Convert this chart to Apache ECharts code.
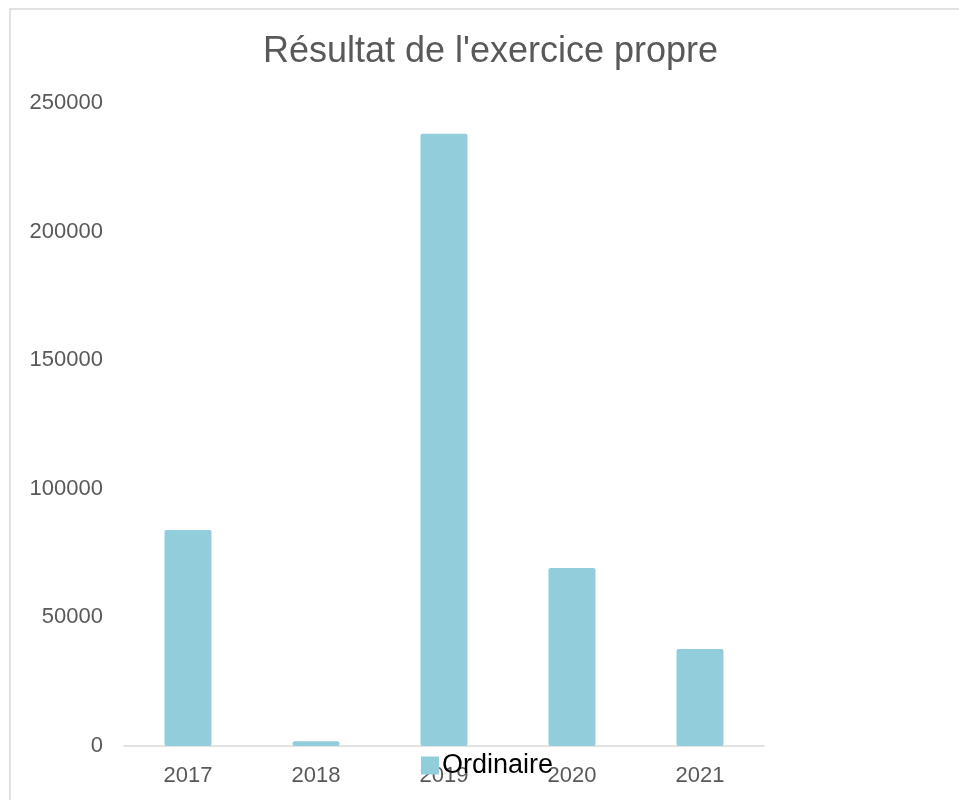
<!DOCTYPE html>
<html>
<head>
<meta charset="utf-8">
<script src="https://cdn.jsdelivr.net/npm/echarts@6/dist/echarts.min.js"></script>
<style>
    html, body { margin: 0; padding: 0; background: #ffffff; }
    #main { width: 959px; height: 800px; }
</style>
</head>
<body>
<div id="main"></div>
<script>
// 数据
var years = ['2017', '2018', '2019', '2020', '2021'];
var ordinaire = [84000, 1800, 238000, 69200, 37700];
var yTicks = [0, 50000, 100000, 150000, 200000, 250000];

var chart = echarts.init(document.getElementById('main'));
var option = {
    backgroundColor: '#ffffff',
    textStyle: {
        fontFamily: 'Liberation Sans, Arial, sans-serif'
    },
    title: {
        text: "Résultat de l'exercice propre",
        left: 258,
        top: 29,
        textStyle: {
            color: '#595959',
            fontSize: 36,
            fontWeight: 'normal',
            fontFamily: 'Liberation Sans, Arial, sans-serif'
        }
    },
    graphic: {
        elements: [
            {
                type: 'rect',
                shape: { x: 10, y: 9, width: 1200, height: 1200 },
                style: { fill: 'none', stroke: '#d9d9d9', lineWidth: 1.5 },
                silent: true
            }
        ]
    },
    legend: {
        data: ['Ordinaire'],
        left: 421,
        top: 752,
        padding: 0,
        itemWidth: 18,
        itemHeight: 18,
        itemGap: 10,
        icon: 'rect',
        textStyle: {
            color: '#000000',
            fontSize: 27,
            padding: [0, 0, 0, -2],
            fontFamily: 'Liberation Sans, Arial, sans-serif'
        }
    },
    grid: {
        left: 124,
        right: 195,
        top: 103,
        bottom: 54
    },
    xAxis: {
        type: 'category',
        data: years,
        axisLine: { lineStyle: { color: '#d9d9d9', width: 1.5 } },
        axisTick: { show: false },
        axisLabel: {
            color: '#595959',
            fontSize: 22,
            margin: 19
        }
    },
    yAxis: {
        type: 'value',
        min: yTicks[0],
        max: yTicks[yTicks.length - 1],
        interval: yTicks[1] - yTicks[0],
        axisLine: { show: false },
        axisTick: { show: false },
        splitLine: { show: false },
        axisLabel: {
            color: '#595959',
            fontSize: 22,
            margin: 21,
            formatter: function (v) { return String(v); }
        }
    },
    series: [
        {
            name: 'Ordinaire',
            type: 'bar',
            data: ordinaire,
            barWidth: 47,
            itemStyle: {
                color: '#92CDDC',
                borderRadius: 2
            }
        }
    ]
};
chart.setOption(option);
</script>
</body>
</html>
